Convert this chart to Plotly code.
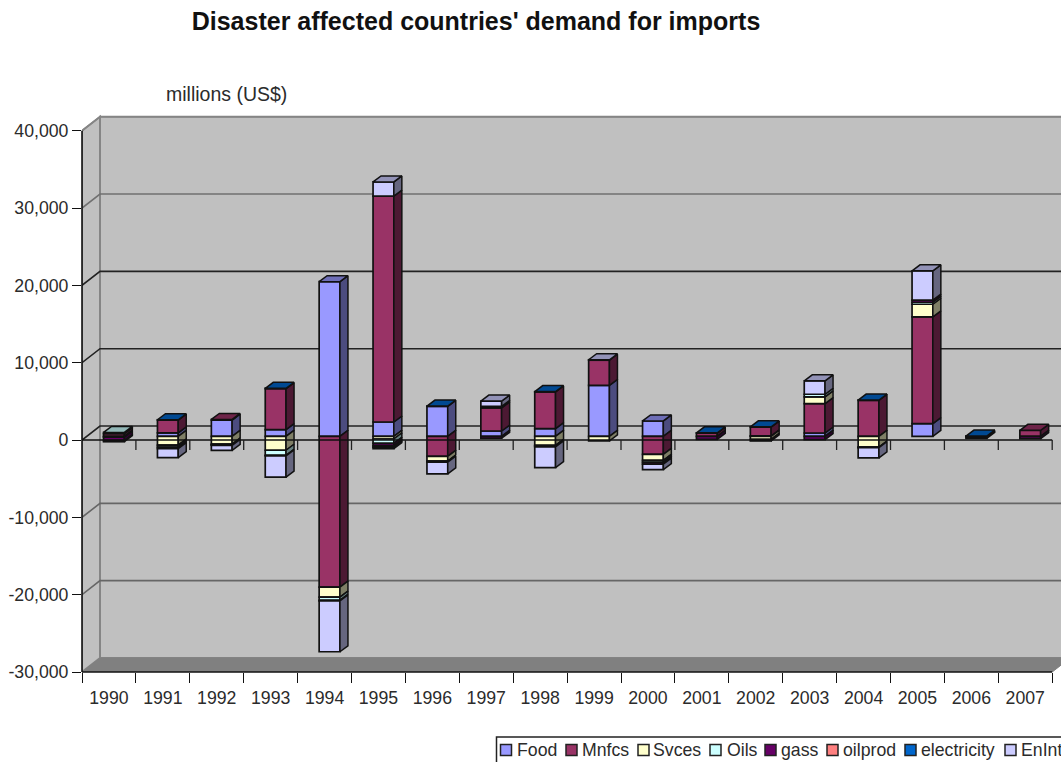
import plotly.graph_objects as go

# Chart values, millions of US$
years = list(range(1990, 2008))
series_names = ["Food", "Mnfcs", "Svces", "Oils", "gass", "oilprod", "electricity", "EnInt"]
food = [0, 450, 2100, 860, 20000, 1850, 3880, 690, 990, 6600, 1990, 0, 50, 430, 0, 1640, 0, 0]
mnfcs = [350, 1650, 80, 5300, -19500, 29200, -2590, 2980, 4750, 3240, -2330, 420, 1150, 3800, 4660, 13800, 0, 780]
svces = [-100, -1150, -1000, -1800, -1300, -350, -600, 0, -1170, -600, -780, 0, -400, 860, -1380, 1640, 0, 0]
oils = [150, -250, -100, -650, -400, -550, -80, 200, -50, 0, -250, 0, 0, 350, -60, 260, 0, 0]
gass = [-450, -200, -60, -80, -100, -300, -80, -250, -150, 0, -250, -400, -200, -430, -40, 260, -60, -300]
oilprod = [0, 0, 0, 0, 0, -200, 0, 0, 0, 0, 0, 0, 0, 0, 0, 0, -200, 0]
electricity = [0, 40, 0, 50, 0, -200, 30, 0, 40, 0, 0, 30, 30, 0, 30, 0, 30, 0]
enint = [-150, -1150, -650, -2750, -6560, 1850, -1500, 690, -2680, 60, -690, 0, 0, 1730, -1300, 3800, 0, 0]
series_values = [food, mnfcs, svces, oils, gass, oilprod, electricity, enint]
series_colors = ["#9999FF", "#993366", "#FFFFCC", "#CCFFFF", "#660066", "#FF8080", "#0066CC", "#CCCCFF"]
value_ticks = [-30000, -20000, -10000, 0, 10000, 20000, 30000, 40000]
grid_colors = {40000: "#858585", 30000: "#707070", 20000: "#222222", 10000: "#222222",
               0: "#222222", -10000: "#666666", -20000: "#666666"}

# Page and plot geometry
W, H = 1061, 762
PLOT_L, PLOT_T, PLOT_B = 82, 114, 672
PX_PER_YEAR = 53.9
UNITS_PER_PX = 70000 / (672 - 130.7)
X0 = 1989.5
X_END = 2007.5
X_MAX = X0 + (W - PLOT_L) / PX_PER_YEAR
Y_TOP = 40000 + (130.7 - PLOT_T) * UNITS_PER_PX
TEXT_COLOR = "#2b2b2b"

# Oblique projection of the depth direction
WALL_DX, WALL_DY = 18 / PX_PER_YEAR, 14 * UNITS_PER_PX
BAR_SHIFT_X, BAR_SHIFT_Y = 5 / PX_PER_YEAR, 3.7 * UNITS_PER_PX
BAR_DX, BAR_DY = 8 / PX_PER_YEAR, 6 * UNITS_PER_PX
BAR_W = 20.8 / PX_PER_YEAR


def px_x(px):
    return (px - PLOT_L) / (W - PLOT_L)


def px_y(py):
    return (PLOT_B - py) / (PLOT_B - PLOT_T)


def shade(hex_color, factor):
    r, g, b = (int(hex_color[i:i + 2], 16) for i in (1, 3, 5))
    return f"rgb({int(r * factor)},{int(g * factor)},{int(b * factor)})"


fig = go.Figure()
shapes = []

# Chart walls and floor
shapes.append(dict(type="rect", layer="below", x0=X0 + WALL_DX, x1=X_MAX + 1, y0=-30000 + WALL_DY, y1=40000 + WALL_DY,
                   fillcolor="#C0C0C0", line=dict(color="#858585", width=2)))
shapes.append(dict(type="path", layer="below",
                   path=f"M {X0},-30000 L {X0 + WALL_DX},{-30000 + WALL_DY} L {X0 + WALL_DX},{40000 + WALL_DY} L {X0},40000 Z",
                   fillcolor="#C0C0C0", line=dict(color="#858585", width=2)))
shapes.append(dict(type="path", layer="below",
                   path=f"M {X0},-30000 L {X_END},-30000 L {X_END + WALL_DX},{-30000 + WALL_DY} L {X0 + WALL_DX},{-30000 + WALL_DY} Z",
                   fillcolor="#808080", line=dict(color="#808080", width=1)))

# Gridlines on the back and side walls
for v, col in grid_colors.items():
    shapes.append(dict(type="path", layer="below",
                       path=f"M {X0},{v} L {X0 + WALL_DX},{v + WALL_DY} L {X_MAX + 1},{v + WALL_DY}",
                       line=dict(color=col, width=1.6)))

# Front axis lines
shapes.append(dict(type="line", xref="paper", x0=0, x1=0, y0=-30000, y1=40000, line=dict(color="#111111", width=1.6)))
shapes.append(dict(type="line", yref="paper", x0=X0, x1=X_END, y0=0, y1=0, line=dict(color="#111111", width=1.6)))
shapes.append(dict(type="line", x0=X0, x1=X_END, y0=0, y1=0, line=dict(color="#111111", width=1.4)))
ZERO_TICK = 10 * UNITS_PER_PX
for i in range(1, len(years) + 1):
    bx = X0 + i
    shapes.append(dict(type="line", x0=bx, x1=bx, y0=0, y1=-ZERO_TICK, line=dict(color="#222222", width=1.3)))

# Stacked segments: positives build upwards, negatives downwards
pos_top = [BAR_SHIFT_Y] * len(years)
neg_bot = [BAR_SHIFT_Y] * len(years)
top_owner = [None] * len(years)
segments = []
for name, vals, col in zip(series_names, series_values, series_colors):
    bases, heights = [], []
    sx, sy = [], []
    for i, v in enumerate(vals):
        if v == 0:
            bases.append(None)
            heights.append(None)
            continue
        if v > 0:
            b = pos_top[i]
            pos_top[i] += v
            top_owner[i] = col
        else:
            b = neg_bot[i]
            neg_bot[i] += v
        bases.append(b)
        heights.append(v)
        xr = years[i] + BAR_SHIFT_X + BAR_W / 2
        sx += [xr, xr + BAR_DX, xr + BAR_DX, xr, xr, None]
        sy += [b, b + BAR_DY, b + v + BAR_DY, b + v, b, None]
    segments.append((name, col, sx, sy))
    fig.add_trace(go.Bar(name=name, x=years, y=heights, base=bases, width=BAR_W,
                         offset=BAR_SHIFT_X - BAR_W / 2,
                         marker=dict(color=col, line=dict(color="#111111", width=1.7)),
                         hoverinfo="skip", showlegend=False))

# Right-hand faces of each segment
for name, col, sx, sy in segments:
    fig.add_trace(go.Scatter(x=sx, y=sy, mode="lines", fill="toself", fillcolor=shade(col, 0.5),
                             line=dict(color="#111111", width=1.5), hoverinfo="skip", showlegend=False))

# Top face of each stack, in the colour of its uppermost series
for i, yr in enumerate(years):
    xl = yr + BAR_SHIFT_X - BAR_W / 2
    xr = xl + BAR_W
    t = pos_top[i]
    fig.add_trace(go.Scatter(x=[xl, xl + BAR_DX, xr + BAR_DX, xr, xl],
                             y=[t, t + BAR_DY, t + BAR_DY, t, t],
                             mode="lines", fill="toself", fillcolor=shade(top_owner[i], 0.72),
                             line=dict(color="#111111", width=1.5), hoverinfo="skip", showlegend=False))

# Legend strip, cut off by the page edge
legend_layout = [("Food", 500.5, 517), ("Mnfcs", 566, 582), ("Svces", 638, 653), ("Oils", 710, 727),
                 ("gass", 765, 781), ("oilprod", 827, 843), ("electricity", 905, 921), ("EnInt", 1005, 1021)]
shapes.append(dict(type="rect", xref="paper", yref="paper", x0=px_x(496.5), x1=px_x(1075), y0=px_y(737), y1=px_y(775),
                   fillcolor="white", line=dict(color="#222222", width=1.5)))
annotations = []
for (label, sw, tx), col in zip(legend_layout, series_colors):
    shapes.append(dict(type="rect", xref="paper", yref="paper", x0=px_x(sw), x1=px_x(sw + 11),
                       y0=px_y(744.5), y1=px_y(755.5), fillcolor=col, line=dict(color="#222222", width=1.5)))
    annotations.append(dict(xref="paper", yref="paper", x=px_x(tx), y=px_y(750), text=label, showarrow=False,
                            xanchor="left", yanchor="middle", xshift=-2,
                            font=dict(family="Liberation Sans", size=17.7, color=TEXT_COLOR)))

annotations.append(dict(xref="paper", yref="paper", x=px_x(226.5), y=px_y(94), text="millions (US$)", showarrow=False,
                        xanchor="center", yanchor="middle",
                        font=dict(family="Liberation Sans", size=19.5, color=TEXT_COLOR)))

fig.update_layout(
    width=W, height=H, autosize=False, barmode="overlay",
    margin=dict(l=PLOT_L, r=0, t=PLOT_T, b=H - PLOT_B),
    paper_bgcolor="white", plot_bgcolor="white", showlegend=False,
    font=dict(family="Liberation Sans", size=17.7, color=TEXT_COLOR),
    title=dict(text="<b>Disaster affected countries' demand for imports</b>",
               x=476 / W, y=1 - 21 / H, xanchor="center", yanchor="middle", xref="container", yref="container",
               font=dict(family="Liberation Sans", size=25, color="#111111")),
    xaxis=dict(range=[X0, X_MAX], tickmode="array", tickvals=years, ticktext=[str(y) for y in years],
               ticks="outside", ticklen=10, tickcolor="rgba(0,0,0,0)", showgrid=False, zeroline=False, showline=False,
               minor=dict(tickmode="array", tickvals=[X0 + i for i in range(len(years) + 1)], ticks="outside",
                          ticklen=10, tickwidth=1.4, tickcolor="#111111", showgrid=False)),
    yaxis=dict(range=[-30000, Y_TOP], tickmode="array", tickvals=value_ticks,
               ticktext=[f"{v:,}" for v in value_ticks], ticks="outside", ticklen=9, tickwidth=1.4,
               tickcolor="#111111", showgrid=False, zeroline=False, showline=False),
    shapes=shapes, annotations=annotations,
)

fig.write_html("out.html")
